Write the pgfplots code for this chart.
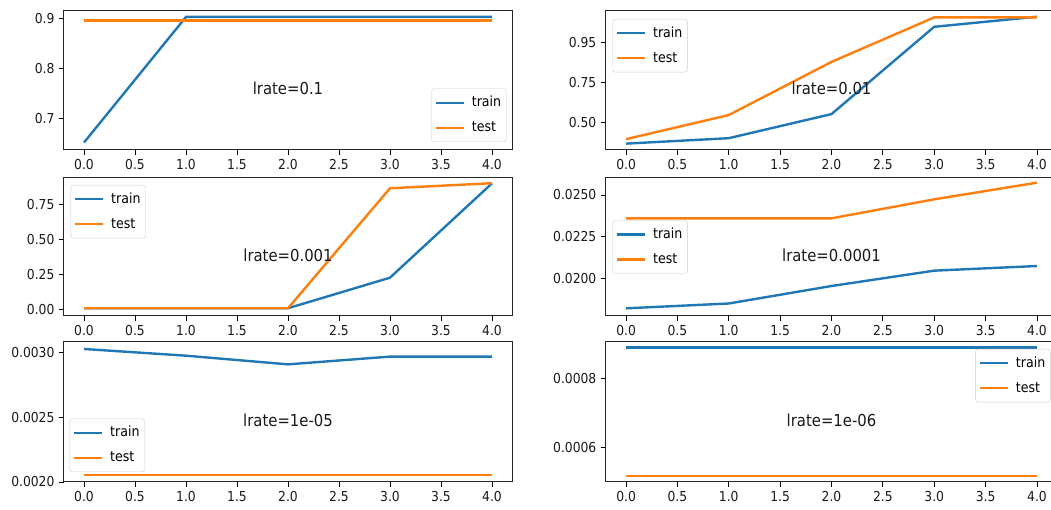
\documentclass[border=0pt]{standalone}
\usepackage{fontspec}
\setmainfont{DejaVu Sans}[FakeStretch=0.9]
\usepackage{pgfplots}
\pgfplotsset{compat=1.18}
\definecolor{trainc}{RGB}{31,119,180}
\definecolor{testc}{RGB}{255,127,14}
\tikzset{lbl/.style={font=\fontsize{16.5}{18}\selectfont, inner sep=0pt, anchor=center, text=black!90}}
\pgfplotsset{
 base/.style={
  scale only axis, anchor=north west, xmin=-0.2, xmax=4.2,
  xtick={0,0.5,1,1.5,2,2.5,3,3.5,4},
  xticklabels={0.0,0.5,1.0,1.5,2.0,2.5,3.0,3.5,4.0},
  tick align=outside, xtick pos=bottom, ytick pos=left,
  major tick length=5pt,
  every tick/.style={black, line width=0.9pt},
  axis line style={black!85, line width=1pt},
  ticklabel style={font=\fontsize{13.7}{16}\selectfont, text=black!90},
  xticklabel style={inner sep=0pt, anchor=north, yshift=-4pt},
  yticklabel style={inner sep=0pt, anchor=east, xshift=-4pt},
  scaled y ticks=false,
  /pgf/number format/assume math mode=true,
  legend cell align=left,
  legend image code/.code={\draw[##1] (0pt,0pt) -- (28pt,0pt);},
  legend style={draw=black!20, rounded corners=2.5pt, fill=white, fill opacity=0.8, text opacity=1, draw opacity=1,
    font=\fontsize{14}{16}\selectfont, inner xsep=3pt, inner ysep=6pt, row sep=9pt, column sep=5pt,
    nodes={inner sep=2pt, text height=10pt, text depth=2pt}},
 },
 trainl/.style={color=trainc, line width=2.4pt},
 testl/.style={color=testc, line width=2.4pt},
}
\begin{document}
\begin{tikzpicture}
\path[use as bounding box] (0pt,0pt) rectangle (1051pt,510pt);
% lrate=0.1
\begin{axis}[base, at={(63.6pt,499pt)}, width=448.8pt, height=139pt,
  ymin=0.636, ymax=0.916, ytick={0.7,0.8,0.9}, yticklabels={0.7,0.8,0.9},
  legend style={at={(1,0)}, anchor=south east, xshift=-6pt, yshift=8pt}]
\addplot[trainl] coordinates {(0,0.651)(1,0.904)(2,0.904)(3,0.904)(4,0.904)};
\addplot[testl] coordinates {(0,0.897)(1,0.897)(2,0.897)(3,0.897)(4,0.897)};
\legend{train,test}
\node[lbl] at (rel axis cs:0.5,0.44) {lrate=0.1};
\end{axis}
% lrate=0.01
\begin{axis}[base, at={(605.5pt,499pt)}, width=452pt, height=139pt,
  ymin=0.328, ymax=1.199, ytick={0.5,0.75,1.0}, yticklabels={0.50,0.75,0.95},
  legend style={at={(0,1)}, anchor=north west, xshift=7pt, yshift=-8pt}]
\addplot[trainl] coordinates {(0,0.368)(1,0.402)(2,0.553)(3,1.100)(4,1.163)};
\addplot[testl] coordinates {(0,0.396)(1,0.547)(2,0.880)(3,1.159)(4,1.159)};
\legend{train,test}
\node[lbl] at (rel axis cs:0.5,0.44) {lrate=0.01};
\end{axis}
% lrate=0.001
\begin{axis}[base, at={(63.6pt,332pt)}, width=448.8pt, height=138pt,
  ymin=-0.043, ymax=0.937, ytick={0,0.25,0.5,0.75}, yticklabels={0.00,0.25,0.50,0.75},
  legend style={at={(0,1)}, anchor=north west, xshift=7pt, yshift=-7pt}]
\addplot[trainl] coordinates {(0,0.012)(1,0.012)(2,0.012)(3,0.229)(4,0.899)};
\addplot[testl] coordinates {(0,0.012)(1,0.012)(2,0.012)(3,0.864)(4,0.900)};
\legend{train,test}
\node[lbl] at (rel axis cs:0.5,0.44) {lrate=0.001};
\end{axis}
% lrate=0.0001
\begin{axis}[base, at={(605.5pt,332pt)}, width=452pt, height=138pt,
  ymin=0.01774, ymax=0.02602, ytick={0.02,0.0225,0.025}, yticklabels={0.0200,0.0225,0.0250},
  legend style={at={(0,0.5)}, anchor=west, xshift=7pt}]
\addplot[trainl] coordinates {(0,0.01820)(1,0.01849)(2,0.01954)(3,0.02046)(4,0.02074)};
\addplot[testl] coordinates {(0,0.02360)(1,0.02360)(2,0.02360)(3,0.02474)(4,0.02574)};
\legend{train,test}
\node[lbl] at (rel axis cs:0.5,0.44) {lrate=0.0001};
\end{axis}
% lrate=1e-05
\begin{axis}[base, at={(63.6pt,168pt)}, width=448.8pt, height=140pt,
  ymin=0.0020, ymax=0.003083, ytick={0.002,0.0025,0.003}, yticklabels={0.0020,0.0025,0.0030},
  legend style={at={(0,0)}, anchor=south west, xshift=6pt, yshift=10pt}]
\addplot[trainl] coordinates {(0,0.003029)(1,0.002977)(2,0.002910)(3,0.002970)(4,0.002970)};
\addplot[testl] coordinates {(0,0.002056)(1,0.002056)(2,0.002056)(3,0.002056)(4,0.002056)};
\legend{train,test}
\node[lbl] at (rel axis cs:0.5,0.44) {lrate=1e-05};
\end{axis}
% lrate=1e-06
\begin{axis}[base, at={(605.5pt,168pt)}, width=452pt, height=140pt,
  ymin=0.000498, ymax=0.000908, ytick={0.0006,0.0008}, yticklabels={0.0006,0.0008},
  legend style={at={(1,1)}, anchor=north east, xshift=-7pt, yshift=-7pt}]
\addplot[trainl] coordinates {(0,0.000892)(1,0.000892)(2,0.000892)(3,0.000892)(4,0.000892)};
\addplot[testl] coordinates {(0,0.000516)(1,0.000516)(2,0.000516)(3,0.000516)(4,0.000516)};
\legend{train,test}
\node[lbl] at (rel axis cs:0.5,0.44) {lrate=1e-06};
\end{axis}
\end{tikzpicture}
\end{document}
